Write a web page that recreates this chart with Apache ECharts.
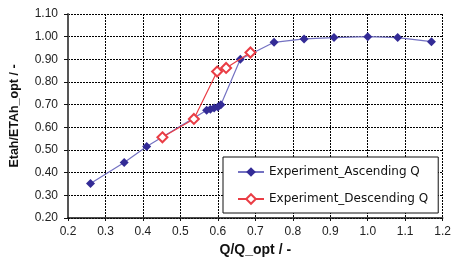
<!DOCTYPE html>
<html><head><meta charset="utf-8">
<script src="https://cdn.jsdelivr.net/npm/echarts@6/dist/echarts.min.js"></script>
<style>html,body{margin:0;padding:0;background:#fff}#c{width:454px;height:262px}</style>
</head><body><div id="c"></div>
<script>
const ascX = [0.26, 0.35, 0.41, 0.57, 0.58, 0.59, 0.60, 0.608, 0.66, 0.75, 0.83, 0.91, 1.0, 1.08, 1.17];
const ascY = [0.352, 0.445, 0.515, 0.675, 0.68, 0.685, 0.69, 0.70, 0.90, 0.975, 0.99, 0.996, 1.0, 0.996, 0.978];
const descX = [0.452, 0.536, 0.598, 0.622, 0.687];
const descY = [0.556, 0.637, 0.846, 0.862, 0.93];
const xTicks = [0.2, 1.2, 0.1];
const yTicks = [0.2, 1.1, 0.1];
const seriesNames = ['Experiment_Ascending Q', 'Experiment_Descending Q'];

const font = 'Liberation Sans, Arial, sans-serif';
const zip = (a, b) => a.map((v, i) => [v, b[i]]);
const chart = echarts.init(document.getElementById('c'), null, {renderer: 'canvas'});
chart.setOption({
  animation: false,
  backgroundColor: '#fff',
  grid: {left: 63, right: 11, top: 14, bottom: 41, show: false},
  xAxis: {
    type: 'value', min: xTicks[0], max: xTicks[1], interval: xTicks[2],
    name: 'Q/Q_opt / -', nameLocation: 'middle', nameGap: 25,
    nameTextStyle: {fontFamily: font, fontSize: 14, fontWeight: 'bold', color: '#111'},
    axisLine: {show: true, onZero: false, lineStyle: {color: '#111', width: 1.5}},
    axisTick: {show: true, length: 3, lineStyle: {color: '#111'}},
    axisLabel: {fontFamily: font, fontSize: 12, color: '#222', margin: 8,
      formatter: v => v.toFixed(1)},
    splitLine: {show: true, lineStyle: {color: '#000', type: [2, 1], width: 1}}
  },
  yAxis: {
    type: 'value', min: yTicks[0], max: yTicks[1], interval: yTicks[2],
    name: 'Etah/ETAh_opt / -', nameLocation: 'middle', nameGap: 47,
    nameTextStyle: {fontFamily: font, fontSize: 12.5, fontWeight: 'bold', color: '#111'},
    axisLine: {show: true, onZero: false, lineStyle: {color: '#555', width: 2}},
    axisTick: {show: true, length: 4, lineStyle: {color: '#111'}},
    axisLabel: {fontFamily: font, fontSize: 12, color: '#222', margin: 10,
      formatter: v => v.toFixed(2)},
    splitLine: {show: true, lineStyle: {color: '#000', type: [2, 1], width: 1}}
  },
  legend: {
    orient: 'vertical', left: 223, top: 157,
    backgroundColor: '#fff', borderColor: '#111', borderWidth: 1,
    padding: [9, 10, 8, 14], itemGap: 15, itemWidth: 26, itemHeight: 12,
    textStyle: {fontFamily: 'DejaVu Sans, sans-serif', fontSize: 12, color: '#111'},
    data: seriesNames
  },
  series: [
    {
      name: seriesNames[0], type: 'line', data: zip(ascX, ascY),
      symbol: 'diamond', symbolSize: 9,
      lineStyle: {color: '#7472c2', width: 1.2},
      itemStyle: {color: '#332b96'}, z: 2
    },
    {
      name: seriesNames[1], type: 'line', data: zip(descX, descY),
      symbol: 'emptyDiamond', symbolSize: 10,
      lineStyle: {color: '#ea3d45', width: 1.2},
      itemStyle: {color: '#ea3d45', borderWidth: 1.2}, z: 3
    }
  ]
});
</script></body></html>
